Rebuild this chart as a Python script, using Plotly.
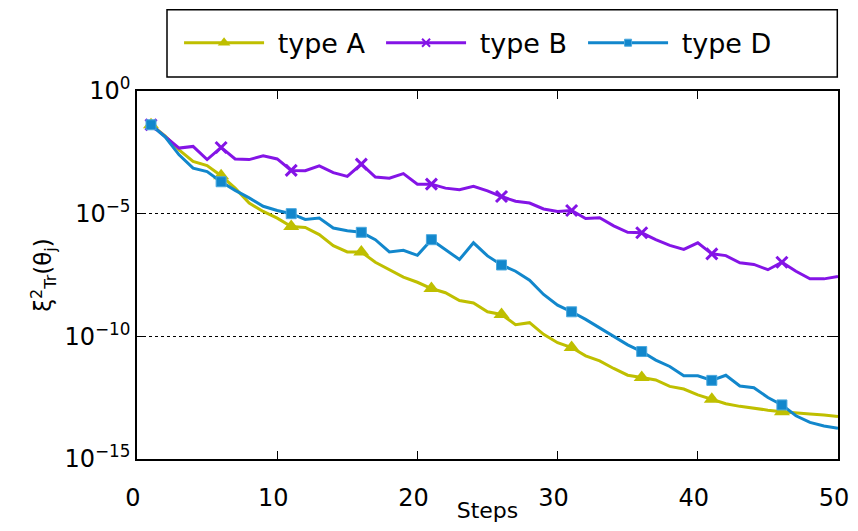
import plotly.graph_objects as go

steps = list(range(1, 51))

type_a = [4.2e-2, 1.5e-2, 4.0e-3, 1.35e-3, 9.1e-4, 3.5e-4, 1.1e-4, 2.7e-5, 1.23e-5, 6.6e-6,
          3.0e-6, 2.75e-6, 1.4e-6, 5.0e-7, 2.75e-7, 2.75e-7, 1.05e-7, 5.2e-8, 2.6e-8, 1.6e-8,
          8.9e-9, 6.0e-9, 2.9e-9, 2.3e-9, 1.0e-9, 7.8e-10, 3.0e-10, 3.6e-10, 1.2e-10, 5.5e-11,
          3.5e-11, 1.6e-11, 1.0e-11, 4.9e-12, 2.6e-12, 2.1e-12, 1.66e-12, 9.1e-13, 7.1e-13, 4.1e-13,
          2.75e-13, 1.8e-13, 1.4e-13, 1.15e-13, 9.8e-14, 8.5e-14, 7.4e-14, 6.8e-14, 6.2e-14, 5.4e-14]

type_b = [4.2e-2, 1.4e-2, 4.7e-3, 5.5e-3, 1.6e-3, 5.0e-3, 1.7e-3, 1.6e-3, 2.3e-3, 1.7e-3,
          5.8e-4, 5.6e-4, 8.9e-4, 4.7e-4, 3.3e-4, 1.05e-3, 3.1e-4, 2.8e-4, 4.3e-4, 1.6e-4,
          1.6e-4, 1.1e-4, 9.5e-5, 1.3e-4, 8.5e-5, 5.0e-5, 3.2e-5, 2.7e-5, 1.55e-5, 1.23e-5,
          1.35e-5, 6.3e-6, 6.8e-6, 3.2e-6, 1.74e-6, 1.66e-6, 8.7e-7, 5.1e-7, 3.5e-7, 6.5e-7,
          2.3e-7, 1.95e-7, 1.0e-7, 8.5e-8, 5.2e-8, 1.05e-7, 4.5e-8, 2.2e-8, 2.2e-8, 2.75e-8]

type_d = [4.2e-2, 1.35e-2, 2.5e-3, 7.2e-4, 5.2e-4, 2.0e-4, 8.9e-5, 4.4e-5, 2.0e-5, 1.35e-5,
          1.0e-5, 5.8e-6, 6.6e-6, 2.6e-6, 2.0e-6, 1.74e-6, 8.7e-7, 2.75e-7, 3.2e-7, 2.0e-7,
          8.7e-7, 3.5e-7, 1.35e-7, 6.5e-7, 1.9e-7, 8.1e-8, 4.5e-8, 1.95e-8, 5.1e-9, 1.86e-9,
          1.0e-9, 4.9e-10, 2.2e-10, 1.02e-10, 4.5e-11, 2.4e-11, 1.07e-11, 5.9e-12, 2.45e-12, 2.45e-12,
          1.6e-12, 2.6e-12, 9.5e-13, 8.1e-13, 3.2e-13, 1.6e-13, 5.8e-14, 3.1e-14, 2.2e-14, 1.8e-14]

marker_steps = [1, 6, 11, 16, 21, 26, 31, 36, 41, 46]

x_ticks = [0, 10, 20, 30, 40, 50]
y_tickvals = [1e0, 1e-5, 1e-10, 1e-15]
y_ticktext = ["10<sup>0</sup>", "10<sup>\u22125</sup>", "10<sup>\u221210</sup>", "10<sup>\u221215</sup>"]

series = [
    ("type A", type_a, "#BFBF00", "triangle-up", 14, 0, "#BFBF00", 11),
    ("type B", type_b, "#8414E6", "x-thin", 11, 3, "#8414E6", 8),
    ("type D", type_d, "#1287CC", "square", 10, 1, "#4AA8DE", 7),
]

fig = go.Figure()
for name, vals, col, sym, msize, mlw, mlc, lsize in series:
    fig.add_trace(go.Scatter(x=steps, y=vals, mode="lines", line=dict(color=col, width=3),
                             showlegend=False, hoverinfo="skip"))
    mx = [s for s in steps if s in marker_steps]
    my = [vals[steps.index(s)] for s in mx]
    fig.add_trace(go.Scatter(x=mx, y=my, mode="markers",
                             marker=dict(symbol=sym, size=msize, color=col,
                                         line=dict(width=mlw, color=mlc)),
                             showlegend=False))
    fig.add_trace(go.Scatter(x=[None], y=[None], mode="lines+markers", name="\u00a0" + name,
                             line=dict(color=col, width=3),
                             marker=dict(symbol=sym, size=lsize, color=col,
                                         line=dict(width=min(mlw, 2), color=mlc))))

# legend frame
fig.add_shape(type="rect", xref="paper", yref="paper", x0=0.0428, x1=0.999, y0=1.038, y1=1.221,
              line=dict(color="black", width=1.5), fillcolor="rgba(0,0,0,0)", layer="above")

fig.update_layout(
    width=842, height=515,
    margin=dict(l=129, r=12, t=83, b=64, autoexpand=False),
    paper_bgcolor="white", plot_bgcolor="white",
    font=dict(family="DejaVu Sans", color="black", size=24),
    legend=dict(orientation="h", x=0.06, y=1.13, xanchor="left", yanchor="middle",
                borderwidth=0, bgcolor="rgba(0,0,0,0)", font=dict(size=27),
                itemwidth=80, entrywidth=107, entrywidthmode="pixels"),
    xaxis=dict(range=[0, 50], tickvals=x_ticks, ticks="inside", ticklen=8, tickwidth=1,
               tickcolor="black", showline=True, linecolor="black", linewidth=1.5,
               mirror="ticks", showgrid=False, zeroline=False, automargin=False,
               ticklabeloverflow="allow", ticklabelstandoff=16, ticklabelshift=-4,
               title=dict(text="Steps", font=dict(size=22), standoff=0),
               tickfont=dict(size=24)),
    yaxis=dict(type="log", range=[-15, 0], tickvals=y_tickvals, ticktext=y_ticktext,
               ticks="inside", ticklen=8, tickwidth=1, tickcolor="black",
               showline=True, linecolor="black", linewidth=1.5, mirror="ticks",
               showgrid=True, gridcolor="black", gridwidth=1, griddash="dot",
               zeroline=False, automargin=False, tickfont=dict(size=24),
               title=dict(text="\u03be<sup>2</sup><sub>Tr</sub>(\u03b8<sub>j</sub>)",
                          font=dict(size=23), standoff=6)),
)

fig.write_html("out.html")
